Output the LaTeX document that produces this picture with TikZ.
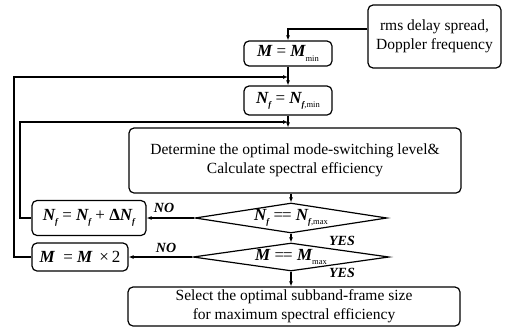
\documentclass[tikz,border=0pt]{standalone}
\usepackage{fontspec}
\setmainfont{Liberation Serif}
\usetikzlibrary{shapes.geometric,arrows.meta}

% bold italic symbols and lowered indices
\newcommand{\bi}[1]{{\bfseries\itshape #1}}
\newcommand{\lowidx}[1]{\raisebox{-0.55ex}{\fontsize{8.5}{8.5}\selectfont #1}}
\newcommand{\deq}{=\kern-1pt=}

\begin{document}
\begin{tikzpicture}[x=1pt,y=-1pt,
  line width=1.1pt,
  box/.style={draw, rounded corners=5pt, line width=1.2pt, inner sep=0pt,
              align=center, font=\fontsize{15.5}{19}\selectfont},
  mathbox/.style={box, font=\fontsize{17}{19}\selectfont},
  test/.style={draw, diamond, line width=1.2pt, inner sep=0pt, aspect=6.5,
               font=\fontsize{17}{19}\selectfont},
  arr/.style={-{Latex[length=5pt,width=4pt]}},
  lbl/.style={font=\fontsize{14}{16}\selectfont\bfseries\itshape, inner sep=0pt}]

\useasboundingbox (0,0) rectangle (508,327);

% process and input boxes
\node[box, minimum width=133, minimum height=63] (rms) at (434.5,36.5)
  {rms delay spread,\\Doppler frequency};
\node[mathbox, minimum width=88, minimum height=25] (Mmin) at (288,53.5)
  {\bi{M} = \bi{M}\lowidx{min}};
\node[mathbox, minimum width=88, minimum height=29] (Nmin) at (288,100.5)
  {\bi{N}\lowidx{\bi{f}} = \bi{N}\lowidx{\bi{f},min}};
\node[box, minimum width=332, minimum height=65] (det) at (295,160.5)
  {Determine the optimal mode-switching level\&\\Calculate spectral efficiency};

% decisions
\node[test, minimum width=192, minimum height=30] (d1) at (291,218)
  {\bi{N}\lowidx{\bi{f}} \deq{} \bi{N}\lowidx{\bi{f},max}};
\node[test, minimum width=196, minimum height=28] (d2) at (291,257)
  {\bi{M} \deq{} \bi{M}\lowidx{max}};

% update boxes
\node[mathbox, minimum width=114, minimum height=35] (nf) at (89,218)
  {\bi{N}\lowidx{\bi{f}} = \bi{N}\lowidx{\bi{f}} + \textbf{Δ}\bi{N}\lowidx{\bi{f}}};
\node[mathbox, minimum width=96, minimum height=28] (m2) at (80,257)
  {\bi{M} \ = \bi{M} \,×\,2};

% result
\node[box, minimum width=332, minimum height=39] (sel) at (294,306.5)
  {Select the optimal subband-frame size\\for maximum spectral efficiency};

% feedback corners
\coordinate (o1) at (14,77);
\coordinate (o2) at (20,122);

% main flow
\draw[arr] ([yshift=7.5pt]rms.west) -| (Mmin.north);
\draw[arr] (Mmin.south) -- (Mmin.south |- Nmin.north);
\draw[arr] (Nmin.south) -- (Nmin.south |- det.north);
\draw[arr] (det.south -| d1.north) -- (d1.north);
\draw[arr] (d1.south) -- (d2.north);
\draw[arr] (d2.south) -- (d2.south |- sel.north);

% NO branches and loops back
\draw[arr] (d1.west) -- (nf.east);
\draw[arr] (d2.west) -- (m2.east);
\draw[arr] (nf.west) -| (o2) -- (Nmin.south |- o2);
\draw[arr] (m2.west) -| (o1) -- (Mmin.south |- o1);

% branch labels
\node[lbl] (no1) at (164,208) {NO};
\node[lbl] (no2) at (166,248) {NO};
\node[lbl] (yes1) at (342,241) {YES};
\node[lbl] (yes2) at (342,273) {YES};
\end{tikzpicture}
\end{document}
